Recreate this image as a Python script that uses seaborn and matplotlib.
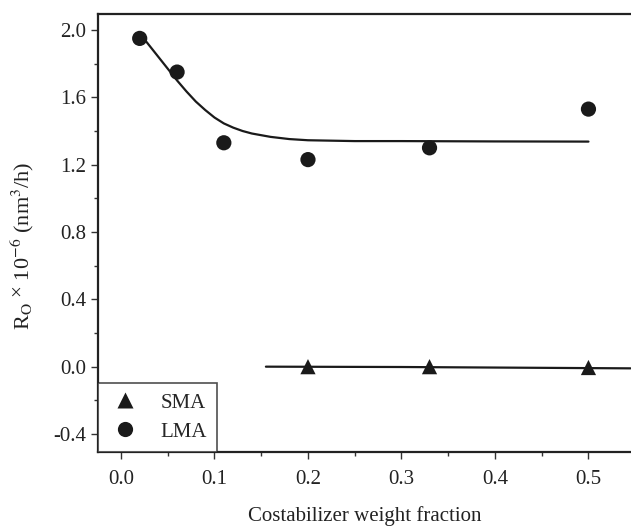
import matplotlib
matplotlib.use("Agg")
import matplotlib.pyplot as plt
import numpy as np
import pandas as pd
import seaborn as sns
from matplotlib.ticker import MultipleLocator

# measured points
lma_x = [0.02, 0.06, 0.11, 0.20, 0.33, 0.50]
lma_y = [1.95, 1.75, 1.33, 1.23, 1.30, 1.53]
sma_x = [0.20, 0.33, 0.50]
sma_y = [0.00, 0.00, -0.005]

# fitted curves
lma_fit_x = [0.02, 0.03, 0.04, 0.05, 0.06, 0.07, 0.08, 0.09, 0.10, 0.11, 0.12,
             0.13, 0.14, 0.16, 0.18, 0.20, 0.25, 0.30, 0.40, 0.50]
lma_fit_y = [1.98, 1.91, 1.84, 1.77, 1.70, 1.635, 1.575, 1.525, 1.48, 1.445, 1.42,
             1.40, 1.385, 1.365, 1.352, 1.345, 1.34, 1.34, 1.338, 1.337]
sma_fit_x = [0.155, 0.30, 0.545]
sma_fit_y = [0.0, -0.002, -0.01]

sns.set_style("ticks")
plt.rcParams["font.family"] = ["Liberation Serif", "DejaVu Serif"]
plt.rcParams["mathtext.fontset"] = "stix"

fig = plt.figure(figsize=(6.31, 5.28), dpi=100)
ax = fig.add_axes([0.1553, 0.1439, 0.8447, 0.8296])

sns.lineplot(x=lma_fit_x, y=lma_fit_y, ax=ax, color="#1a1a1a", lw=1.6, sort=False)
sns.lineplot(x=sma_fit_x, y=sma_fit_y, ax=ax, color="#1a1a1a", lw=1.6, sort=False)

df = pd.concat([
    pd.DataFrame({"x": sma_x, "y": sma_y, "series": "SMA"}),
    pd.DataFrame({"x": lma_x, "y": lma_y, "series": "LMA"}),
])
sns.scatterplot(data=df, x="x", y="y", style="series", markers={"SMA": "^", "LMA": "o"},
                color="#1a1a1a", s=120, edgecolor="none", ax=ax, zorder=3)

ax.set_xlim(-0.0246, 0.5455)
ax.set_ylim(-0.507, 2.095)
ax.xaxis.set_minor_locator(MultipleLocator(0.05))
ax.yaxis.set_minor_locator(MultipleLocator(0.2))
ax.set_xticks(np.arange(0, 0.51, 0.1))
ax.set_xticklabels(["0.0", "0.1", "0.2", "0.3", "0.4", "0.5"])
ax.set_yticks([-0.4, 0.0, 0.4, 0.8, 1.2, 1.6, 2.0])
ax.set_yticklabels(["-0.4", "0.0", "0.4", "0.8", "1.2", "1.6", "2.0"])
ax.tick_params(which="major", direction="out", length=5, width=1, labelsize=15,
               color="#333333", labelcolor="#222222")
ax.tick_params(axis="x", which="major", pad=8)
ax.tick_params(which="minor", direction="out", length=3, width=1, color="#333333")

for side in ["left", "bottom", "top"]:
    ax.spines[side].set_visible(True)
    ax.spines[side].set_linewidth(1.6)
    ax.spines[side].set_color("#222222")
ax.spines["right"].set_visible(False)

ax.set_xlabel("Costabilizer weight fraction", fontsize=15, labelpad=12, color="#222222")
ax.set_ylabel(r"R$_\mathrm{O}$ $^{\times}$ 10$^{-6}$ (nm$^{3}$/h)", fontsize=16,
              color="#222222")
ax.yaxis.set_label_coords(-0.116, 0.47)

leg = ax.legend(loc="lower left", borderaxespad=0, fontsize=15, frameon=True,
                fancybox=False, edgecolor="#222222", handletextpad=0.9,
                borderpad=0.5, labelspacing=0.45, markerscale=1.0, handlelength=1.6)
leg.get_frame().set_linewidth(1.2)

fig.savefig("out.png", dpi=100)
